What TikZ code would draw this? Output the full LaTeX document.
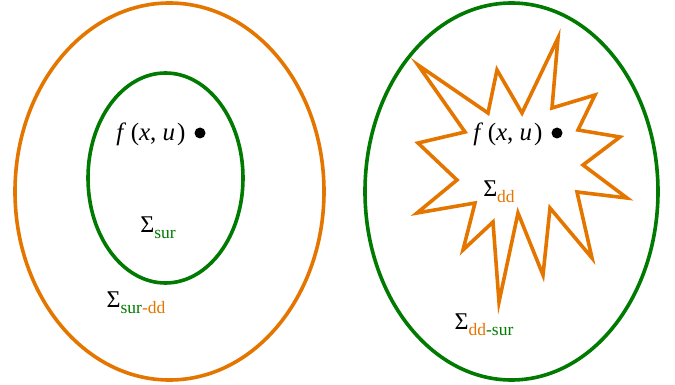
\documentclass[tikz,border=0pt]{standalone}
\usepackage{fontspec}
\setmainfont{Liberation Serif}
\usepackage{xcolor}
\definecolor{sysorange}{RGB}{228,118,0}
\definecolor{sysgreen}{RGB}{0,122,0}
\newcommand{\sysub}[1]{\raisebox{-6pt}{\fontsize{17.5}{19}\selectfont #1}}
\newcommand{\fxu}{\textit{f}\hspace{0.18em}(\textit{x},\hspace{0.25em}\textit{u}\hspace{0.08em})}
\begin{document}
\begin{tikzpicture}[
  x=1pt, y=-1pt,
  font=\fontsize{24}{28}\selectfont,
  boundary/.style={line width=3.6pt, line join=miter},
  lbl/.style={inner sep=0pt},
  fun/.style={inner sep=0pt, font=\fontsize{25}{28}\selectfont},
  pt/.style={circle, fill=black, inner sep=0pt, minimum size=11pt}
]
\useasboundingbox (0,0) rectangle (675,385);
% left: surrogate set inside the data-driven set
\draw[boundary, sysorange] (169.5,191.5) ellipse [x radius=154.5pt, y radius=188.5pt];
\draw[boundary, sysgreen] (165.5,178) ellipse [x radius=77.5pt, y radius=105pt];
\node[fun] (fL) at (151,134) {\fxu};
\node[pt] (dotL) at (200,133) {};
\node[lbl] (surL) at (158,228) {Σ\sysub{\color{sysgreen}sur}};
\node[lbl] (surdd) at (136,303) {Σ\sysub{\color{sysgreen}sur\color{sysorange}-dd}};
% right: data-driven set (star) inside the surrogate set
\draw[boundary, sysgreen] (511.5,191.5) ellipse [x radius=146.5pt, y radius=188.5pt];
\draw[boundary, sysorange] (558,38) -- (552,108) -- (595,95) -- (578,130) -- (620,137)
  -- (583,165) -- (627,198) -- (577,192) -- (592,258) -- (550,208) -- (543,275)
  -- (518,213) -- (499,302) -- (493,222) -- (463,250) -- (475,203) -- (417,213)
  -- (457,180) -- (418,143) -- (465,132) -- (418,65) -- (488,113) -- (497,70)
  -- (522,113) -- cycle;
\node[fun] (fR) at (508,134) {\fxu};
\node[pt] (dotR) at (557,133) {};
\node[lbl] (ddR) at (499,192) {Σ\sysub{\color{sysorange}dd}};
\node[lbl] (ddsur) at (484,325) {Σ\sysub{\color{sysorange}dd\color{sysgreen}-sur}};
\end{tikzpicture}
\end{document}
